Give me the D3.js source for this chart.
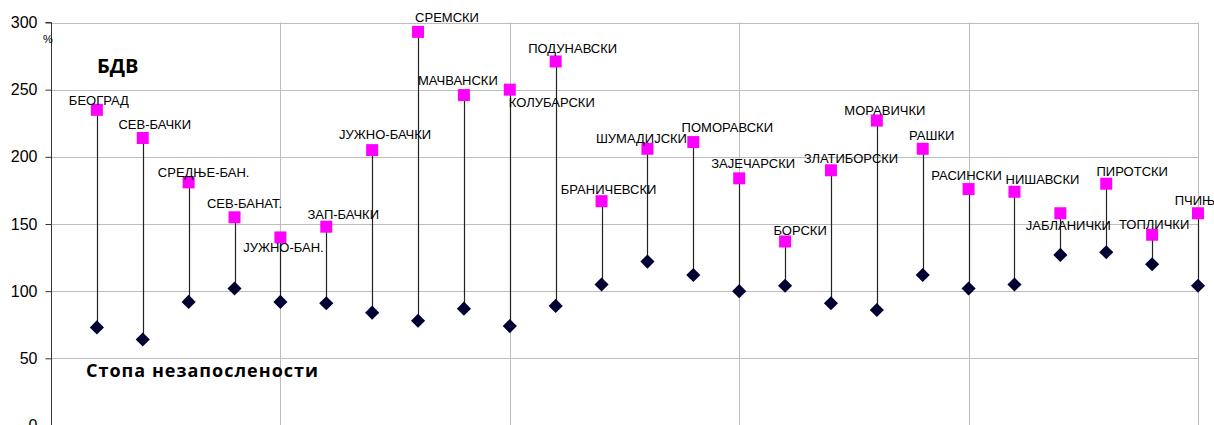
<!DOCTYPE html>
<html>
<head>
<meta charset="utf-8">
<script src="https://cdn.jsdelivr.net/npm/d3@7"></script>
<style>
  body { margin: 0; background: #fff; }
  svg { display: block; }
</style>
</head>
<body>
<div id="chart"></div>
<script>
const regions = ['БЕОГРАД', 'СЕВ-БАЧКИ', 'СРЕДЊЕ-БАН.', 'СЕВ-БАНАТ.', 'ЈУЖНО-БАН.', 'ЗАП-БАЧКИ',
  'ЈУЖНО-БАЧКИ', 'СРЕМСКИ', 'МАЧВАНСКИ', 'КОЛУБАРСКИ', 'ПОДУНАВСКИ', 'БРАНИЧЕВСКИ',
  'ШУМАДИЈСКИ', 'ПОМОРАВСКИ', 'ЗАЈЕЧАРСКИ', 'БОРСКИ', 'ЗЛАТИБОРСКИ', 'МОРАВИЧКИ',
  'РАШКИ', 'РАСИНСКИ', 'НИШАВСКИ', 'ЈАБЛАНИЧКИ', 'ПИРОТСКИ', 'ТОПЛИЧКИ', 'ПЧИЊ'];
const bdv = [235, 214, 181, 155, 140, 148, 205, 293, 246, 250, 271, 167, 206, 211, 184, 137,
  190, 227, 206, 176, 174, 158, 180, 142, 158];
const unemployment = [73, 64, 92, 102, 92, 91, 84, 78, 87, 74, 89, 105, 122, 112, 100, 104,
  91, 86, 112, 102, 105, 127, 129, 120, 104];
const yTicks = [0, 50, 100, 150, 200, 250, 300];
const xGrid = [5, 10, 15, 20, 25];

// label placement relative to the square: [dx of text centre, dy of baseline]
const labelOffset = [[2, -5], [12, -9], [15, -5], [10, -9], [3, 15], [17, -8], [13, -11],
  [29, -10], [-6, -10], [42, 17], [17, -8], [7, -7], [-6, -6], [34, -10], [14, -10],
  [15, -6], [20, -7], [8, -6], [9, -9], [-2, -9], [28, -8], [8, 17], [26, -8], [2, -6], [-3, -8]];

const width = 1214;
const height = 425;

const x = d3.scaleLinear().domain([0, 25]).range([51, 1198]);
const y = d3.scaleLinear().domain([0, 300]).range([425.5, 22.5]);

const svg = d3.select('#chart')
  .append('svg')
  .attr('width', width)
  .attr('height', height);

// grid
svg.append('g')
  .selectAll('line')
  .data(yTicks)
  .join('line')
  .attr('x1', x(0))
  .attr('x2', x(25))
  .attr('y1', (d) => Math.round(y(d)) + 0.5)
  .attr('y2', (d) => Math.round(y(d)) + 0.5)
  .attr('stroke', '#bdbdbd')
  .attr('stroke-width', 1);

svg.append('g')
  .selectAll('line')
  .data(xGrid)
  .join('line')
  .attr('x1', (d) => Math.round(x(d)) + 0.5)
  .attr('x2', (d) => Math.round(x(d)) + 0.5)
  .attr('y1', y(300))
  .attr('y2', height)
  .attr('stroke', '#bdbdbd')
  .attr('stroke-width', 1);

// y axis
const yAxis = svg.append('g')
  .attr('transform', `translate(${Math.round(x(0)) + 0.5},0)`)
  .call(d3.axisLeft(y).tickValues(yTicks).tickSize(6).tickPadding(8));
yAxis.select('.domain').attr('stroke', '#333').attr('d', `M-6,${y(300)}H0V${height}`);
yAxis.selectAll('.tick line').attr('stroke', '#333');
yAxis.selectAll('.tick text')
  .attr('font-family', 'Liberation Sans, Arial, sans-serif')
  .attr('font-size', 16)
  .attr('fill', '#000');

// connector lines
const points = regions.map((name, i) => ({
  name, i, xv: i + 1, top: bdv[i], bottom: unemployment[i], off: labelOffset[i],
}));

svg.append('g')
  .selectAll('line')
  .data(points)
  .join('line')
  .attr('x1', (d) => Math.round(x(d.xv)) + 0.5)
  .attr('x2', (d) => Math.round(x(d.xv)) + 0.5)
  .attr('y1', (d) => y(d.top))
  .attr('y2', (d) => y(d.bottom))
  .attr('stroke', '#222')
  .attr('stroke-width', 1.2);

// unemployment diamonds
const diamond = d3.symbol(d3.symbolSquare, 100);
svg.append('g')
  .selectAll('path')
  .data(points)
  .join('path')
  .attr('d', diamond)
  .attr('transform', (d) => `translate(${x(d.xv)},${y(d.bottom)}) rotate(45)`)
  .attr('fill', '#000033');

// BDV squares
const square = d3.symbol(d3.symbolSquare, 144);
svg.append('g')
  .selectAll('path')
  .data(points)
  .join('path')
  .attr('d', square)
  .attr('transform', (d) => `translate(${x(d.xv)},${y(d.top)})`)
  .attr('fill', '#ff00ff');

// region labels
svg.append('g')
  .selectAll('text')
  .data(points)
  .join('text')
  .attr('x', (d) => x(d.xv) + d.off[0])
  .attr('y', (d) => y(d.top) + d.off[1])
  .attr('text-anchor', 'middle')
  .attr('font-family', 'Liberation Sans, Arial, sans-serif')
  .attr('font-size', 13)
  .attr('fill', '#000')
  .text((d) => d.name);

// annotations
svg.append('text')
  .attr('x', 48)
  .attr('y', 43)
  .attr('text-anchor', 'middle')
  .attr('font-family', 'Liberation Sans, Arial, sans-serif')
  .attr('font-size', 11)
  .text('%');

svg.append('text')
  .attr('x', 97)
  .attr('y', 73)
  .attr('font-family', 'Open Sans, sans-serif')
  .attr('font-weight', 'bold')
  .attr('font-size', 20)
  .text('БДВ');

svg.append('text')
  .attr('x', 86)
  .attr('y', 377)
  .attr('font-family', 'Open Sans, sans-serif')
  .attr('font-weight', 'bold')
  .attr('font-size', 18)
  .attr('textLength', 232)
  .attr('lengthAdjust', 'spacing')
  .text('Стопа незапослености');
</script>
</body>
</html>
